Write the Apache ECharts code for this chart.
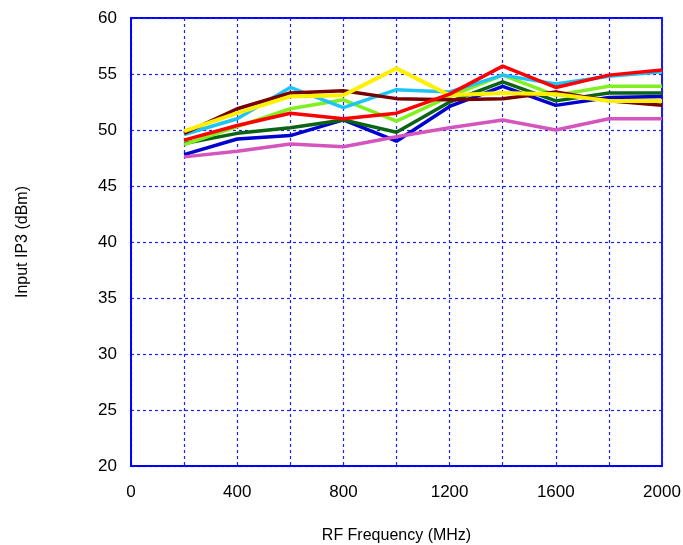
<!DOCTYPE html>
<html>
<head>
<meta charset="utf-8">
<script src="https://cdn.jsdelivr.net/npm/echarts@6/dist/echarts.min.js"></script>
<style>
  html, body { margin: 0; padding: 0; background: #fff; }
  #chart { width: 683px; height: 545px; }
</style>
</head>
<body>
<div id="chart"></div>
<script>
// RF frequency points (MHz)
const freq = [200, 400, 600, 800, 1000, 1200, 1400, 1600, 1800, 2000];

// input IP3 per curve (dBm)
const blueIP3      = [47.8, 49.2, 49.5, 50.9, 49.0, 52.1, 53.9, 52.2, 52.9, 53.0];
const darkGreenIP3 = [48.8, 49.7, 50.2, 50.9, 49.8, 52.5, 54.3, 52.6, 53.3, 53.3];
const pinkIP3      = [47.6, 48.1, 48.75, 48.5, 49.4, 50.2, 50.9, 50.0, 51.0, 51.0];
const limeIP3      = [48.7, 50.3, 51.9, 52.7, 50.8, 53.0, 54.9, 53.1, 53.9, 53.9];
const cyanIP3      = [49.6, 51.0, 53.8, 52.0, 53.6, 53.4, 54.9, 54.1, 54.8, 55.2];
const brownIP3     = [49.7, 51.9, 53.3, 53.5, 52.8, 52.7, 52.8, 53.4, 52.6, 52.2];
const yellowIP3    = [49.9, 51.5, 53.0, 53.1, 55.5, 53.1, 53.3, 53.2, 52.6, 52.6];
const redIP3       = [49.1, 50.4, 51.5, 51.0, 51.5, 53.2, 55.7, 53.8, 54.9, 55.35];

function pairs(vals) {
  return freq.map((f, i) => [f, vals[i]]);
}

function line(vals, color, width) {
  return {
    type: 'line',
    data: pairs(vals),
    symbol: 'none',
    lineStyle: { color: color, width: width || 3.5 },
    animation: false
  };
}

const gridLine = {
  show: true,
  lineStyle: { color: '#2020ee', width: 1.2, type: [3, 3] }
};

const chart = echarts.init(document.getElementById('chart'));
chart.setOption({
  backgroundColor: '#fff',
  textStyle: { fontFamily: 'Liberation Sans, Arial, sans-serif' },
  grid: {
    left: 131, right: 21, top: 18, bottom: 79,
    outerBoundsMode: 'none',
    containLabel: false,
    show: true, borderColor: '#0000ff', borderWidth: 1.8
  },
  xAxis: {
    type: 'value',
    min: 0, max: 2000, interval: 200,
    name: 'RF Frequency (MHz)',
    nameLocation: 'middle',
    nameGap: 62,
    nameTextStyle: { fontSize: 16, color: '#000' },
    axisLine: { lineStyle: { color: '#0000ff', width: 1.8 } },
    axisTick: { show: false },
    axisLabel: {
      fontSize: 17, color: '#000', margin: 18,
      formatter: v => (v % 400 === 0 ? String(v) : '')
    },
    splitLine: gridLine
  },
  yAxis: {
    type: 'value',
    min: 20, max: 60, interval: 5,
    name: 'Input IP3 (dBm)',
    nameLocation: 'middle',
    nameGap: 100,
    nameTextStyle: { fontSize: 16, color: '#000' },
    axisLine: { show: true, lineStyle: { color: '#0000ff', width: 1.8 } },
    axisTick: { show: false },
    axisLabel: { fontSize: 17, color: '#000', margin: 14 },
    splitLine: gridLine
  },
  series: [
    line(blueIP3, '#0000d0'),
    line(darkGreenIP3, '#0a6414'),
    line(pinkIP3, '#d455be'),
    line(limeIP3, '#80f020'),
    line(cyanIP3, '#1ec4f8'),
    line(brownIP3, '#780000'),
    line(yellowIP3, '#fff000', 4),
    line(redIP3, '#ff0000')
  ]
});
</script>
</body>
</html>
